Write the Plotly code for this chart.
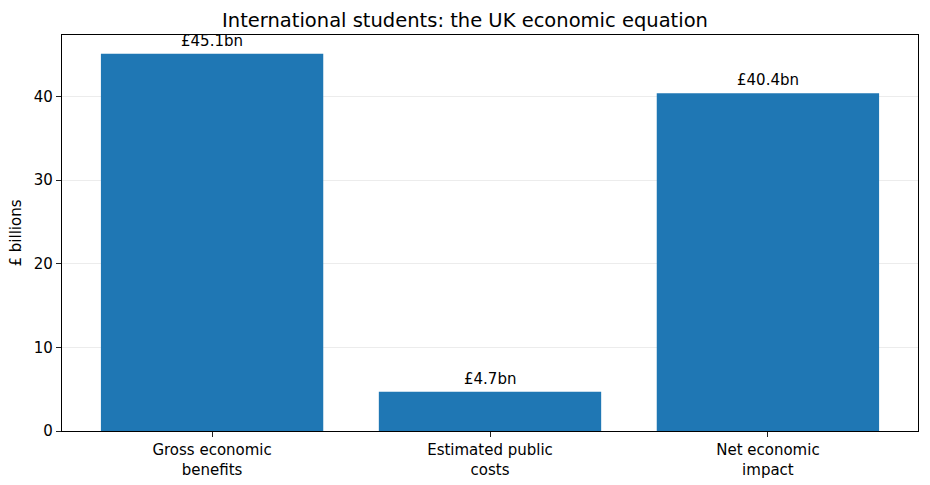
import plotly.graph_objects as go

categories = ["Gross economic<br>benefits", "Estimated public<br>costs", "Net economic<br>impact"]
values = [45.1, 4.7, 40.4]
labels = ["£45.1bn", "£4.7bn", "£40.4bn"]

x_pos = list(range(len(categories)))

fig = go.Figure()
fig.add_trace(go.Bar(
    x=x_pos, y=values, width=0.8,
    marker=dict(color="#1f77b4", line=dict(width=0)),
    showlegend=False, hoverinfo="skip",
))
for xi, v, t in zip(x_pos, values, labels):
    fig.add_annotation(x=xi, y=v, text=t, showarrow=False, yanchor="bottom",
                       yshift=2, font=dict(size=15, color="black"))

fig.update_layout(
    width=930, height=485,
    margin=dict(l=62, r=12, t=35, b=54, autoexpand=False),
    paper_bgcolor="white", plot_bgcolor="white",
    font=dict(family="DejaVu Sans", size=15, color="black"),
    title=dict(text="International students: the UK economic equation",
               x=0.5, xanchor="center", y=0.958, yanchor="middle",
               font=dict(size=19.5, color="black")),
    xaxis=dict(range=[-0.54, 2.54], tickmode="array", tickvals=x_pos, ticktext=categories,
               showgrid=False, zeroline=False, showline=True, mirror=True, automargin=False,
               linecolor="black", linewidth=1.2, ticks="outside", ticklen=5,
               tickcolor="#222", tickfont=dict(size=15)),
    yaxis=dict(range=[0, 47.355], tickvals=[0, 10, 20, 30, 40],
               showgrid=True, gridcolor="#ececec", gridwidth=1, automargin=False,
               zeroline=False, showline=True, mirror=True,
               linecolor="black", linewidth=1.2, ticks="outside", ticklen=5,
               tickcolor="#222", tickfont=dict(size=15),
               title=dict(text="£ billions", font=dict(size=15), standoff=8)),
)

fig.write_html("out.html", config={"displayModeBar": False},
               post_script="document.body.style.margin='0';document.body.style.overflow='hidden';")
